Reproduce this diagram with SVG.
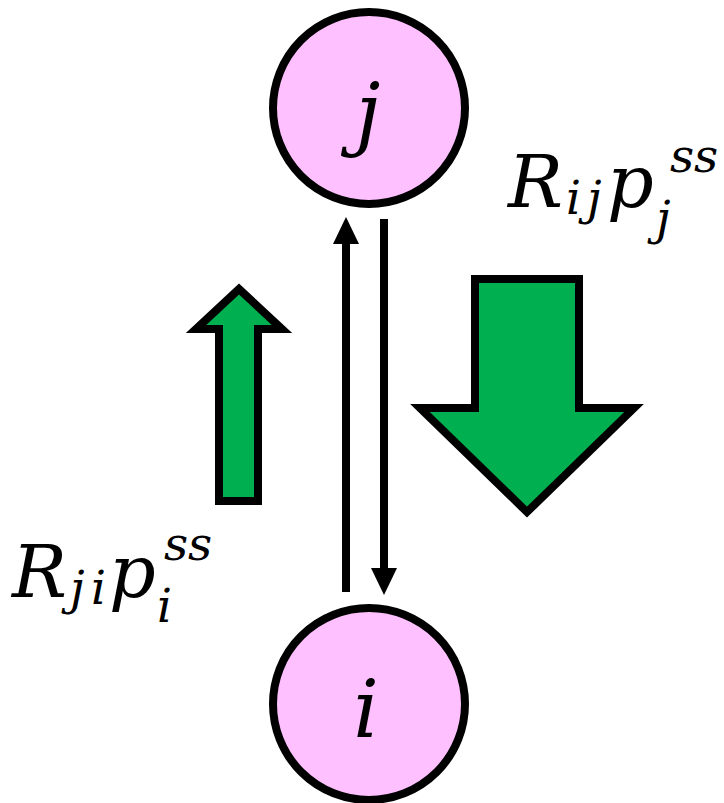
<svg xmlns="http://www.w3.org/2000/svg" width="724" height="803" viewBox="0 0 724 803">
<defs>
<style>
.node{fill:#FFC0FF;stroke:#000;stroke-width:8}
.lbl{font-family:"DejaVu Serif",serif;font-style:italic;fill:#000}
.main{font-size:73px}
.scr{font-size:47px}
.nl{font-size:80px}
.conn{stroke:#000;stroke-width:8;fill:none}
.flow{fill:#00B050;stroke:#000;stroke-width:8;stroke-linejoin:miter}
</style>
<marker id="ah" markerUnits="userSpaceOnUse" markerWidth="28" markerHeight="26" viewBox="0 0 28 26" refX="1" refY="13" orient="auto">
<path d="M0,0 L27,13 L0,26 z" fill="#000"/>
</marker>
</defs>
<rect width="724" height="803" fill="#fff"/>
<g id="connectors">
<line class="conn" x1="346" y1="592" x2="346" y2="243" marker-end="url(#ah)"/>
<line class="conn" x1="384" y1="219" x2="384" y2="569" marker-end="url(#ah)"/>
</g>
<g id="node-j">
<circle class="node" cx="369" cy="108" r="96"/>
<text class="lbl nl" x="368" y="140" text-anchor="middle">j</text>
</g>
<g id="node-i">
<circle class="node" cx="369" cy="704" r="96"/>
<text class="lbl nl" x="366" y="737" text-anchor="middle">i</text>
</g>
<g id="flow-up">
<polygon class="flow" points="239,289 282,329 258,329 258,501 219,501 219,329 196,329"/>
</g>
<g id="flow-down">
<polygon class="flow" points="475,279 579,279 579,408 634,408 527,512 420,408 475,408"/>
</g>
<g id="label-Rij">
<text class="lbl"><tspan class="main" x="508" y="207">R</tspan><tspan class="scr" x="566" y="214">i</tspan><tspan class="scr" x="587" y="214">j</tspan><tspan class="main" x="607" y="207">p</tspan><tspan class="scr" x="656" y="234">j</tspan><tspan class="scr" x="670" y="172">ss</tspan></text>
</g>
<g id="label-Rji">
<text class="lbl"><tspan class="main" x="12" y="597">R</tspan><tspan class="scr" x="70" y="604">j</tspan><tspan class="scr" x="91" y="604">i</tspan><tspan class="main" x="109" y="597">p</tspan><tspan class="scr" x="157" y="622">i</tspan><tspan class="scr" x="164" y="560">ss</tspan></text>
</g>
</svg>
